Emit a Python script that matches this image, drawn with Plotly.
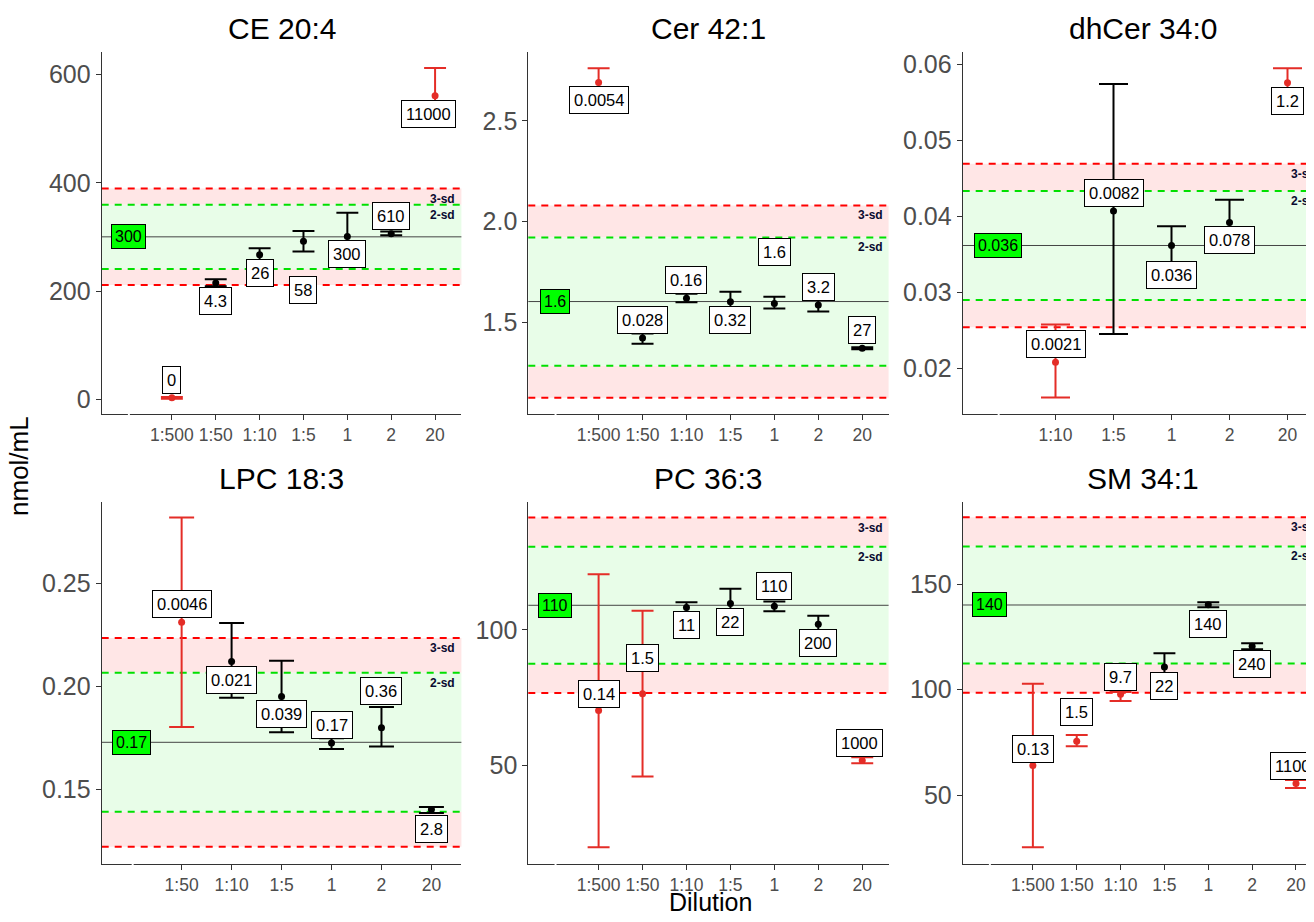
import plotly.graph_objects as go

# page is rendered with an 8px body margin; the figure fills the rest of the window
OFF = 8
W, H = 1314 - OFF, 922 - 2 * OFF

# ------------------------------------------------------------------ data
titles = ["CE 20:4", "Cer 42:1", "dhCer 34:0", "LPC 18:3", "PC 36:3", "SM 34:1"]

ce_dil = ["1:500", "1:50", "1:10", "1:5", "1", "2", "20"]
ce_val = [3, 215, 267, 292, 301, 306, 561]
ce_up = [1.5, 7, 12, 19, 44, 4, 51]
ce_dn = [1.5, 6, 12, 19, 44, 3, 51]
ce_lab = ["0", "4.3", "26", "58", "300", "610", "11000"]
ce_mean, ce_sd, ce_mean_lab = 300.3, 29.7, "300"

cer_dil = ["1:500", "1:50", "1:10", "1:5", "1", "2", "20"]
cer_val = [2.69, 1.422, 1.620, 1.602, 1.593, 1.586, 1.371]
cer_up = [0.07, 0.022, 0.022, 0.050, 0.034, 0.032, 0.005]
cer_dn = [0.07, 0.028, 0.021, 0.050, 0.025, 0.032, 0.005]
cer_lab = ["0.0054", "0.028", "0.16", "0.32", "1.6", "3.2", "27"]
cer_mean, cer_sd, cer_mean_lab = 1.603, 0.159, "1.6"

dh_dil = ["1:10", "1:5", "1", "2", "20"]
dh_val = [0.02077, 0.04071, 0.03615, 0.03917, 0.05758]
dh_up = [0.00496, 0.0167, 0.00254, 0.00299, 0.00193]
dh_dn = [0.00464, 0.01622, 0.00254, 0.00299, 0.00193]
dh_lab = ["0.0021", "0.0082", "0.036", "0.078", "1.2"]
dh_mean, dh_sd, dh_mean_lab = 0.03615, 0.00359, "0.036"

lpc_dil = ["1:50", "1:10", "1:5", "1", "2", "20"]
lpc_val = [0.2312, 0.2121, 0.1952, 0.1725, 0.1800, 0.1402]
lpc_up = [0.0509, 0.0188, 0.0173, 0.0024, 0.0100, 0.0013]
lpc_dn = [0.0509, 0.0176, 0.0174, 0.0029, 0.0091, 0.0016]
lpc_lab = ["0.0046", "0.021", "0.039", "0.17", "0.36", "2.8"]
lpc_mean, lpc_sd, lpc_mean_lab = 0.1729, 0.0169, "0.17"

pc_dil = ["1:500", "1:50", "1:10", "1:5", "1", "2", "20"]
pc_val = [70.2, 76.4, 108.3, 109.8, 108.7, 102.1, 51.8]
pc_up = [50.4, 30.7, 1.9, 5.4, 1.8, 3.1, 1.2]
pc_dn = [50.5, 30.5, 1.9, 5.4, 1.8, 3.1, 1.0]
pc_lab = ["0.14", "1.5", "11", "22", "110", "200", "1000"]
pc_mean, pc_sd, pc_mean_lab = 109.1, 10.8, "110"

sm_dil = ["1:500", "1:50", "1:10", "1:5", "1", "2", "20"]
sm_val = [64.1, 75.6, 97.8, 110.7, 140.2, 120.6, 55.6]
sm_up = [38.7, 3.0, 1.1, 6.6, 1.2, 1.4, 1.6]
sm_dn = [38.7, 2.4, 3.2, 6.6, 1.2, 1.4, 2.1]
sm_lab = ["0.13", "1.5", "9.7", "22", "140", "240", "1100"]
sm_mean, sm_sd, sm_mean_lab = 140.1, 13.85, "140"

y_tickvals = [[0, 200, 400, 600], [1.5, 2.0, 2.5], [0.02, 0.03, 0.04, 0.05, 0.06],
              [0.15, 0.20, 0.25], [50, 100], [50, 100, 150]]

# ------------------------------------------------------------------ layout / style helpers
# label vertical offsets in px (+ up) and horizontal nudges (repel-like placement)
lab_dy = [[18, -18, -18, -49, -18, 18, -18],
          [-18, 18, 18, -18, 52, 18, 18],
          [18, 18, -30, -17, -18],
          [18, -18, -18, 18, 37, -19],
          [17, 36, -18, -19, 20, -19, 17],
          [17, 29, 17, -19, -19, -18, 17]]
lab_dx = [[0, 0, 0, 0, 0, 0, -7],
          [0] * 7, [0] * 5, [0] * 6,
          [0, 0, 0, 0, 0, 0, -3],
          [0, 0, 0, 0, 0, 0, -3]]

panels = [
    (ce_dil, ce_val, ce_up, ce_dn, ce_lab, ce_mean, ce_sd, ce_mean_lab),
    (cer_dil, cer_val, cer_up, cer_dn, cer_lab, cer_mean, cer_sd, cer_mean_lab),
    (dh_dil, dh_val, dh_up, dh_dn, dh_lab, dh_mean, dh_sd, dh_mean_lab),
    (lpc_dil, lpc_val, lpc_up, lpc_dn, lpc_lab, lpc_mean, lpc_sd, lpc_mean_lab),
    (pc_dil, pc_val, pc_up, pc_dn, pc_lab, pc_mean, pc_sd, pc_mean_lab),
    (sm_dil, sm_val, sm_up, sm_dn, sm_lab, sm_mean, sm_sd, sm_mean_lab),
]

# panel geometry in window pixels (left, right(full, may exceed window), top, bottom)
px_cols = [(101.7, 461.4), (528.3, 888.6), (962.7, 1322.3)]
px_rows = [(50, 413), (501, 864.3)]
y_ranges = [[-27.07, 641.8], [1.0446, 2.8416], [0.01394, 0.06165],
            [0.11357, 0.2897], [13.41, 147.27], [17.29, 188.9]]
y_fmt = ["d", ".1f", ".2f", ".2f", "d", "d"]

RED = "#E42D27"
FONT = "Liberation Sans, Arial, sans-serif"
GREY = "#4D4D4D"

fig = go.Figure()
annotations = []
shapes = []


def px2x(px):
    return (px - OFF) / W


def px2y(py):
    return (H - (py - OFF)) / H


WIN_R = 1314

for i, (dil, val, up, dn, lab, mean, sd, mlab) in enumerate(panels):
    k = "" if i == 0 else str(i + 1)
    xa, ya = "x" + k, "y" + k
    col, row = i % 3, i // 3
    L, R_full = px_cols[col]
    T, B = px_rows[row]
    R = min(R_full, WIN_R)
    n = len(dil)
    span = n + 1.2
    step = (R_full - L) / span
    xr = [-0.6, -0.6 + (R - L) / step]

    xs = list(range(1, n + 1))
    out = [abs(v - mean) > 3 * sd for v in val]
    for flag, colr in [(False, "black"), (True, RED)]:
        idx = [j for j in range(n) if out[j] == flag]
        if not idx:
            continue
        fig.add_trace(go.Scatter(
            x=[xs[j] for j in idx], y=[val[j] for j in idx],
            mode="markers", xaxis=xa, yaxis=ya, showlegend=False,
            marker=dict(color=colr, size=7),
            error_y=dict(type="data", symmetric=False,
                         array=[up[j] for j in idx], arrayminus=[dn[j] for j in idx],
                         color=colr, thickness=2, width=step * 0.25),
            cliponaxis=False,
        ))

    fig.layout[("xaxis" + k)] = dict(
        domain=[px2x(L), min(px2x(R), 1.0)], range=xr, anchor=ya,
        tickvals=xs, ticktext=dil, showgrid=False, zeroline=False,
        showline=True, linecolor="#333333", linewidth=1,
        ticks="outside", ticklen=5, tickcolor="#333333",
        tickfont=dict(size=17.5, color=GREY, family=FONT),
    )
    fig.layout[("yaxis" + k)] = dict(
        domain=[px2y(B), px2y(T)], range=y_ranges[i], anchor=xa,
        tickvals=y_tickvals[i], tickformat=y_fmt[i], showgrid=False, zeroline=False,
        showline=True, linecolor="#333333", linewidth=1,
        ticks="outside", ticklen=5, tickcolor="#333333",
        tickfont=dict(size=25, color=GREY, family=FONT),
    )

    xd = xa + " domain"
    # bands
    for y0, y1, c in [(mean + 2 * sd, mean + 3 * sd, "#FFE6E6"),
                      (mean - 3 * sd, mean - 2 * sd, "#FFE6E6"),
                      (mean - 2 * sd, mean + 2 * sd, "#E8FDE8")]:
        shapes.append(dict(type="rect", xref=xd, yref=ya, x0=0, x1=1, y0=y0, y1=y1,
                           fillcolor=c, line=dict(width=0), layer="below"))
    for yv, c in [(mean + 3 * sd, "#FF0000"), (mean - 3 * sd, "#FF0000"),
                  (mean + 2 * sd, "#00E000"), (mean - 2 * sd, "#00E000")]:
        shapes.append(dict(type="line", xref=xd, yref=ya, x0=0, x1=1, y0=yv, y1=yv,
                           line=dict(color=c, width=2, dash="7px,6px"), layer="below"))
    shapes.append(dict(type="line", xref=xd, yref=ya, x0=0, x1=1, y0=mean, y1=mean,
                       line=dict(color="#444444", width=1), layer="below"))

    # sd text at the right edge
    for yv, t in [(mean + 3 * sd, "3-sd"), (mean + 2 * sd, "2-sd")]:
        annotations.append(dict(xref="paper", yref=ya, x=px2x(R_full - 4), y=yv,
                                text="<b>" + t + "</b>", showarrow=False,
                                xanchor="right", yanchor="top", yshift=-1,
                                font=dict(size=12, color="#0A0A30", family=FONT)))

    # mean label
    annotations.append(dict(xref=xa, yref=ya, x=0, y=mean, text=mlab, showarrow=False,
                            xanchor="center", yanchor="middle",
                            bgcolor="#00FF00", bordercolor="black", borderwidth=1,
                            borderpad=3, font=dict(size=16, color="black", family=FONT)))
    # point labels
    for j in range(n):
        annotations.append(dict(xref=xa, yref=ya, x=xs[j], y=val[j], text=lab[j],
                                showarrow=False, yshift=lab_dy[i][j], xshift=lab_dx[i][j],
                                xanchor="center", yanchor="middle",
                                bgcolor="white", bordercolor="black", borderwidth=1,
                                borderpad=4, font=dict(size=16.5, color="black", family=FONT)))

    # panel title
    annotations.append(dict(xref="paper", yref="paper", x=px2x((L + R_full) / 2),
                            y=px2y(T - 23), text=titles[i], showarrow=False,
                            xanchor="center", yanchor="middle",
                            font=dict(size=30, color="black", family=FONT)))

    # small gap in the x axis line at the empty label slot
    shapes.append(dict(type="line", xref=xa, yref="paper", x0=0.02, x1=0.02,
                       y0=px2y(B + 1.5), y1=px2y(B - 1.5),
                       line=dict(color="white", width=2), layer="above"))

annotations.append(dict(xref="paper", yref="paper", x=px2x(710), y=px2y(914),
                        text="Dilution", showarrow=False, yshift=-4,
                        xanchor="center", yanchor="bottom",
                        font=dict(size=25, color="black", family=FONT)))
annotations.append(dict(xref="paper", yref="paper", x=px2x(19), y=px2y(465),
                        text="nmol/mL", showarrow=False, textangle=-90,
                        xanchor="center", yanchor="middle",
                        font=dict(size=26, color="black", family=FONT)))

fig.update_layout(width=W, height=H, margin=dict(l=0, r=0, t=0, b=0),
                  paper_bgcolor="white", plot_bgcolor="white",
                  annotations=annotations, shapes=shapes, showlegend=False,
                  font=dict(family=FONT))

fig.write_html("out.html")
